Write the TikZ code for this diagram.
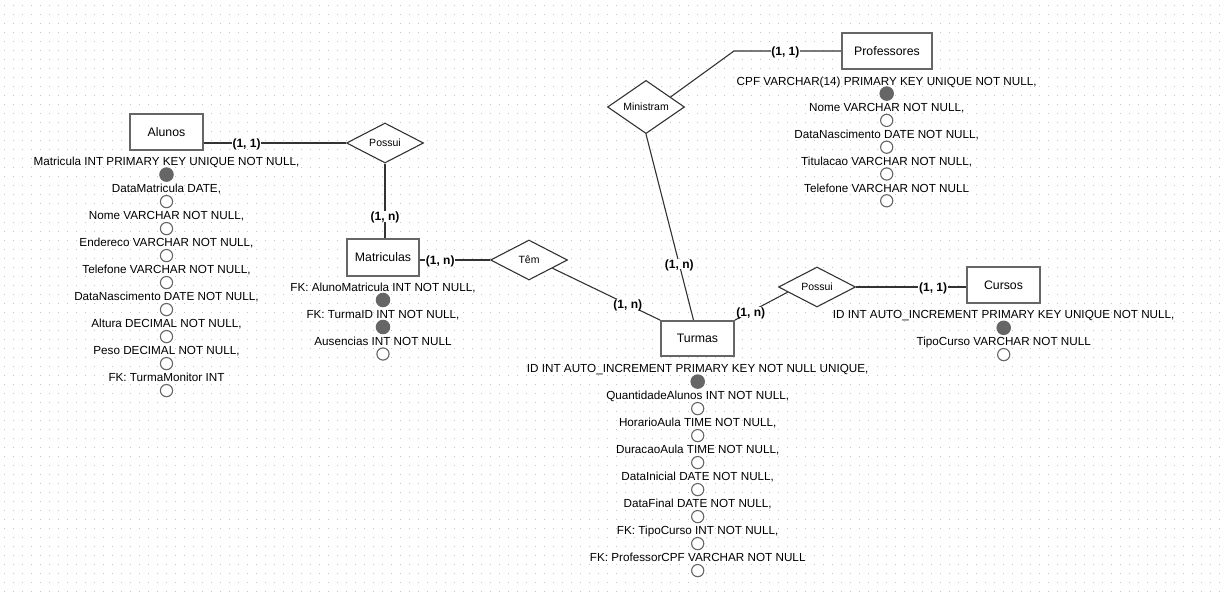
\documentclass[tikz,border=0pt]{standalone}
\usepackage{fontspec}
\setmainfont{Liberation Sans}
\usetikzlibrary{shapes.geometric,calc}
\definecolor{borda}{HTML}{666666}
\definecolor{linha}{HTML}{333333}
\definecolor{ponto}{HTML}{C4C4C4}

\begin{document}
\begin{tikzpicture}[x=1pt, y=-1pt,
 entidade/.style={draw=borda, line width=1.8pt, fill=white, inner sep=0pt, text height=8.8pt, text depth=0pt, font=\fontsize{12.3}{14}\selectfont},
 relacao/.style={diamond, draw=linha, line width=1.1pt, fill=white, inner sep=0pt, minimum width=77pt, minimum height=40pt, font=\fontsize{10.5}{12}\selectfont},
 card/.style={fill=white, inner sep=0.8pt, text height=8.6pt, text depth=0pt, font=\fontsize{12}{14}\selectfont\bfseries},
 atributo/.style={inner sep=0pt, text height=8.4pt, text depth=0pt, font=\fontsize{11.7}{14}\selectfont},
 chave/.style={circle, draw=borda, fill=borda, line width=1pt, minimum size=13.5pt, inner sep=0pt},
 campo/.style={circle, draw=borda, fill=white, line width=1.1pt, minimum size=12.2pt, inner sep=0pt},
 conexao/.style={draw=linha, line width=1.1pt}] % modelo conceitual da escola

\useasboundingbox (0,0) rectangle (1228,596);
\fill[white] (0,0) rectangle (1228,596);

% grade de pontos
\foreach \k in {0,...,65}
 \draw[ponto, line width=1pt, dash pattern=on 1pt off 8pt] (4.2,6+9*\k) -- (1228,6+9*\k);

% entidades
\node[entidade, minimum width=73pt, minimum height=36pt] (Alunos) at (166.5,132) {Alunos};
\node[entidade, minimum width=72pt, minimum height=37pt] (Matriculas) at (383,257.5) {Matriculas};
\node[entidade, minimum width=73pt, minimum height=35pt] (Turmas) at (697.5,338.5) {Turmas};
\node[entidade, minimum width=90pt, minimum height=36pt] (Professores) at (887,51) {Professores};
\node[entidade, minimum width=73pt, minimum height=36pt] (Cursos) at (1003.5,285) {Cursos};

% relacionamentos
\node[relacao] (PossuiA) at (385,143) {Possui};
\node[relacao] (Tem) at (529,260) {Têm};
\node[relacao] (Ministram) at (646,107) {Ministram};
\node[relacao] (PossuiC) at (817,287) {Possui};

% atributos
\foreach \txt/\tipo [count=\i from 0] in {{Matricula INT PRIMARY KEY UNIQUE NOT NULL,}/chave,
 {DataMatricula DATE,}/campo, {Nome VARCHAR NOT NULL,}/campo, {Endereco VARCHAR NOT NULL,}/campo,
 {Telefone VARCHAR NOT NULL,}/campo, {DataNascimento DATE NOT NULL,}/campo,
 {Altura DECIMAL NOT NULL,}/campo, {Peso DECIMAL NOT NULL,}/campo, {FK: TurmaMonitor INT}/campo}
{
 \node[atributo] (alunos-t\i) at (166.5,161.7+27*\i) {\txt};
 \node[\tipo] (alunos-c\i) at (166.5,174.6+27*\i) {};
}
\foreach \txt/\tipo [count=\i from 0] in {{FK: AlunoMatricula INT NOT NULL,}/chave,
 {FK: TurmaID INT NOT NULL,}/chave, {Ausencias INT NOT NULL}/campo}
{
 \node[atributo] (matriculas-t\i) at (383,287+27*\i) {\txt};
 \node[\tipo] (matriculas-c\i) at (383,300+27*\i) {};
}
\foreach \txt/\tipo [count=\i from 0] in {{ID INT AUTO\_INCREMENT PRIMARY KEY NOT NULL UNIQUE,}/chave,
 {QuantidadeAlunos INT NOT NULL,}/campo, {HorarioAula TIME NOT NULL,}/campo,
 {DuracaoAula TIME NOT NULL,}/campo, {DataInicial DATE NOT NULL,}/campo,
 {DataFinal DATE NOT NULL,}/campo, {FK: TipoCurso INT NOT NULL,}/campo,
 {FK: ProfessorCPF VARCHAR NOT NULL}/campo}
{
 \node[atributo] (turmas-t\i) at (697.7,368.3+27*\i) {\txt};
 \node[\tipo] (turmas-c\i) at (697.7,381.6+27*\i) {};
}
\foreach \txt/\tipo [count=\i from 0] in {{CPF VARCHAR(14) PRIMARY KEY UNIQUE NOT NULL,}/chave,
 {Nome VARCHAR NOT NULL,}/campo, {DataNascimento DATE NOT NULL,}/campo,
 {Titulacao VARCHAR NOT NULL,}/campo, {Telefone VARCHAR NOT NULL}/campo}
{
 \node[atributo] (professores-t\i) at (886.7,81+26.8*\i) {\txt};
 \node[\tipo] (professores-c\i) at (886.7,93.6+26.8*\i) {};
}
\foreach \txt/\tipo [count=\i from 0] in {{ID INT AUTO\_INCREMENT PRIMARY KEY UNIQUE NOT NULL,}/chave,
 {TipoCurso VARCHAR NOT NULL}/campo}
{
 \node[atributo] (cursos-t\i) at (1003.7,314+26.8*\i) {\txt};
 \node[\tipo] (cursos-c\i) at (1003.7,327.8+26.8*\i) {};
}

% ligacoes
\draw[conexao] (Alunos.east |- PossuiA.west) -- node[card, pos=0.3] (card1) {(1, 1)} (PossuiA.west);
\draw[conexao] (PossuiA.south) -- node[card, pos=0.71] (card2) {(1, n)} (PossuiA.south |- Matriculas.north);
\draw[conexao] (Matriculas.east |- Tem.west) -- node[card, pos=0.29] (card3) {(1, n)} (Tem.west);
\draw[conexao] ($(Tem.east)!0.4!(Tem.south)$) -- node[card, pos=0.7] (card4) {(1, n)} (Turmas.north west);
\draw[conexao] (Ministram.south) -- node[card, pos=0.7] (card5) {(1, n)} ($(Turmas.north)+(-4,0)$);
\coordinate (dobra) at (734,51);
\draw[conexao] ($(Ministram.north)!0.63!(Ministram.east)$) -- (dobra) -- node[card, pos=0.48] (card6) {(1, 1)} (Professores.west);
\draw[conexao] (PossuiC.east) -- node[card, pos=0.7] (card7) {(1, 1)} (Cursos.west |- PossuiC.east);
\draw[conexao] ($(PossuiC.west)!0.25!(PossuiC.south)$) -- node[card, pos=0.7] (card8) {(1, n)} (Turmas.north east);
\end{tikzpicture}
\end{document}
